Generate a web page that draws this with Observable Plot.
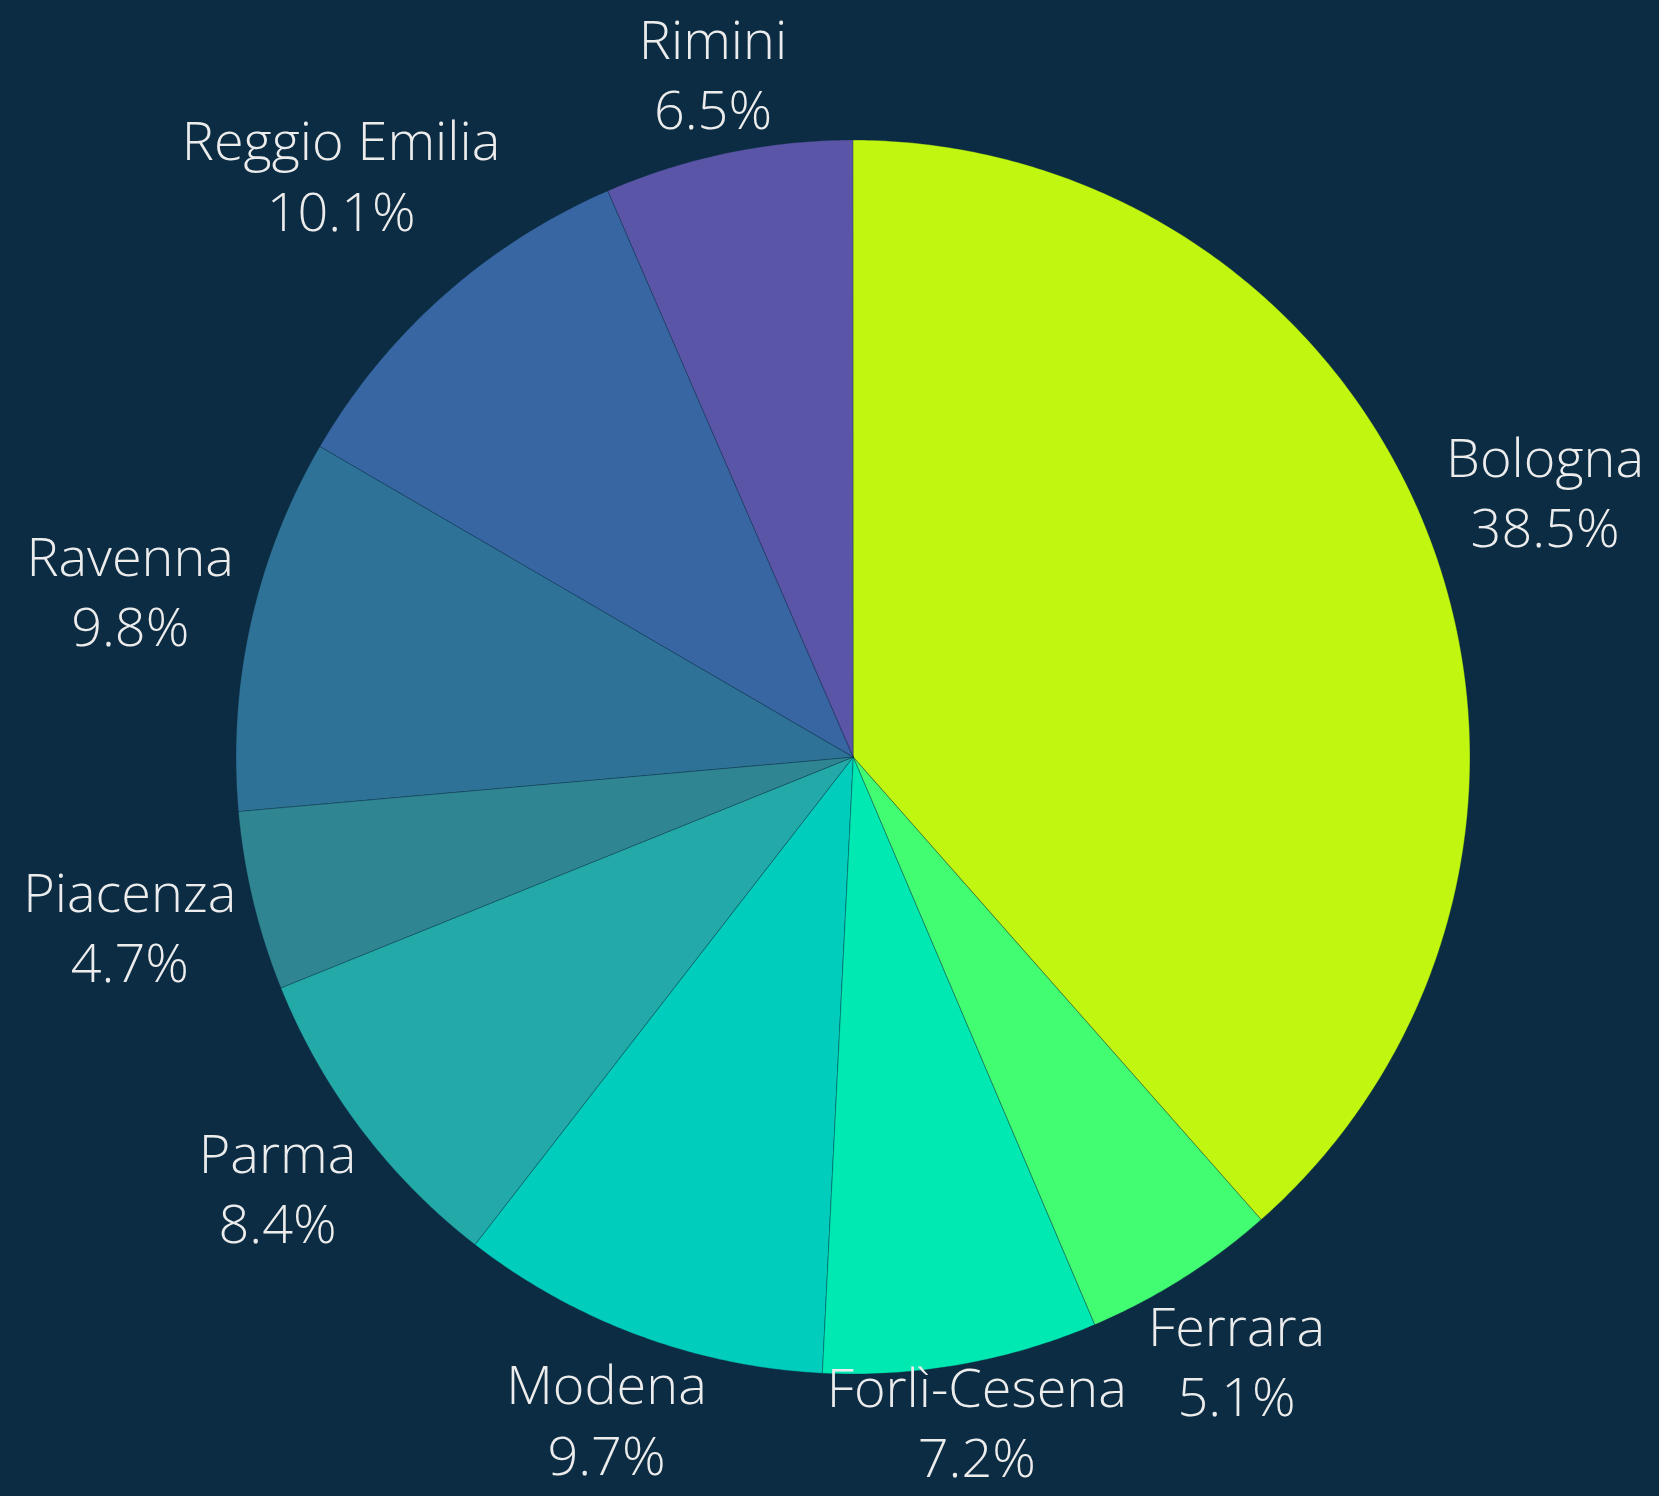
<!DOCTYPE html>
<html>
<head>
<meta charset="utf-8">
<script src="https://cdn.jsdelivr.net/npm/d3@7"></script>
<script src="https://cdn.jsdelivr.net/npm/@observablehq/plot@0.6"></script>
<style>
  html, body { margin: 0; padding: 0; background: #0b2c42; }
  #chart svg { display: block; }
</style>
</head>
<body>
<div id="chart"></div>
<script>
// ---- data ----
const categories = ["Bologna", "Ferrara", "Forlì-Cesena", "Modena", "Parma", "Piacenza", "Ravenna", "Reggio Emilia", "Rimini"];
const shares = [38.5, 5.1, 7.2, 9.7, 8.4, 4.7, 9.8, 10.1, 6.5];
const sliceColors = ["#c0f60f", "#42fd72", "#01e9b3", "#00cdbc", "#23a9a7", "#2f8591", "#2e7397", "#3866a2", "#5b55a8"];

// ---- layout ----
const W = 1659, H = 1496;
const cx = 853, cy = 757, R = 617;
const bg = "#0b2c42";
const fontSize = 54, lineHeight = 1.3;
const fontFamily = "'Open Sans', 'Noto Sans', sans-serif";

const data = categories.map((c, i) => ({category: c, share: shares[i]}));
const arcs = d3.pie().sort(null).value(d => d.share)(data);

// wedge outlines in unit (radius = 1) space, center at 0,0
const wedgePts = [];
for (const a of arcs) {
  const n = Math.max(4, Math.ceil((a.endAngle - a.startAngle) / (Math.PI * 2) * 720));
  for (let k = 0; k <= n; k++) {
    const t = a.startAngle + (a.endAngle - a.startAngle) * k / n;
    wedgePts.push({category: a.data.category, x1: Math.sin(t), y1: Math.cos(t), x2: 0, y2: 0});
  }
}

// labels: placed radially at mid-angle, just outside the pie (kept inside the frame)
const ctx = document.createElement("canvas").getContext("2d");
ctx.font = `300 ${fontSize}px ${fontFamily}`;
const yMin = (cy - (H - 70)) / R;
const labels = arcs.map(a => {
  const mid = (a.startAngle + a.endAngle) / 2;
  const s = Math.sin(mid), c = Math.cos(mid);
  const text = `${a.data.category}\n${a.data.share.toFixed(1)}%`;
  const w = d3.max(text.split("\n"), t => ctx.measureText(t).width);
  const h = 100, pad = 12;
  const d = (R + pad + (w / 2) * Math.abs(s) + (h / 2) * Math.abs(c)) / R;
  return {text, x: d * s, y: Math.max(yMin, d * c)};
});

const chart = Plot.plot({
  width: W,
  height: H,
  margin: 0,
  style: {background: bg, fontFamily},
  x: {domain: [-cx / R, (W - cx) / R], range: [0, W], axis: null},
  y: {domain: [cy / R, -(H - cy) / R], range: [0, H], axis: null},
  color: {type: "ordinal", domain: categories, range: sliceColors},
  marks: [
    Plot.area(wedgePts, {
      x1: "x1", y1: "y1", x2: "x2", y2: "y2",
      z: "category", fill: "category",
      stroke: bg, strokeWidth: 1, strokeOpacity: 0.35
    }),
    Plot.text(labels, {
      x: "x", y: "y", text: "text",
      fill: "#ececec", fontSize, lineHeight, fontWeight: 300,
      textAnchor: "middle", lineAnchor: "middle", dy: -7
    })
  ]
});
document.getElementById("chart").append(chart);
</script>
</body>
</html>
